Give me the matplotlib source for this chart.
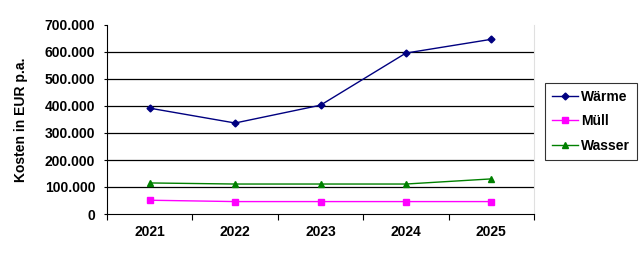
import matplotlib.pyplot as plt
import numpy as np
from matplotlib.ticker import FuncFormatter, MultipleLocator

plt.rcParams["font.family"] = ["Liberation Sans", "DejaVu Sans"]

years = ["2021", "2022", "2023", "2024", "2025"]
waerme = [392000, 337000, 403000, 596000, 647000]
muell = [51000, 46000, 46000, 46000, 46000]
wasser = [115000, 111000, 111000, 111000, 130000]


def thousands(v, pos):
    return f"{int(v):,}".replace(",", ".")


fig = plt.figure(figsize=(6.42, 2.63), dpi=100)
ax = fig.add_axes([107 / 642, 49 / 263, 427 / 642, 189 / 263])

x = np.arange(len(years))
ax.plot(x, waerme, color="#000080", marker="D", markersize=3.5, linewidth=1.0, label="Wärme")
ax.plot(x, muell, color="#FF00FF", marker="s", markersize=4.5, linewidth=1.0, label="Müll")
ax.plot(x, wasser, color="#008000", marker="^", markersize=4.5, linewidth=1.0, label="Wasser")

ax.set_xlim(-0.5, len(years) - 0.5)
ax.set_ylim(0, 700000)
ax.yaxis.set_major_locator(MultipleLocator(100000))
ax.yaxis.set_major_formatter(FuncFormatter(thousands))
for v in range(100000, 700000, 100000):
    ax.axhline(v, color="black", linewidth=0.9, zorder=0)

ax.set_xticks(x)
ax.set_xticklabels(years)
ax.set_xticks(np.arange(-0.5, len(years), 1.0), minor=True)
ax.tick_params(axis="x", which="major", length=0, pad=8, labelsize=10)
ax.tick_params(axis="x", which="minor", length=4, width=0.8, direction="out")
ax.tick_params(axis="y", length=2.5, width=0.8, labelsize=10, pad=6)
for lab in ax.get_xticklabels() + ax.get_yticklabels():
    lab.set_fontweight("bold")

ax.spines["top"].set_visible(False)
ax.spines["right"].set_color("#e0e0e0")
ax.spines["left"].set_linewidth(0.8)
ax.spines["bottom"].set_linewidth(0.8)

ax.set_ylabel("Kosten in EUR p.a.", fontsize=10, fontweight="bold", labelpad=12)

leg = fig.legend(loc="upper left", bbox_to_anchor=(545 / 642, 1 - 83 / 263),
                 borderaxespad=0, frameon=True, fancybox=False, edgecolor="black",
                 prop={"weight": "bold", "size": 10}, handlelength=1.9,
                 handletextpad=0.2, borderpad=0.5, labelspacing=0.75)
leg.get_frame().set_linewidth(0.8)

fig.savefig("out.png", dpi=100)
